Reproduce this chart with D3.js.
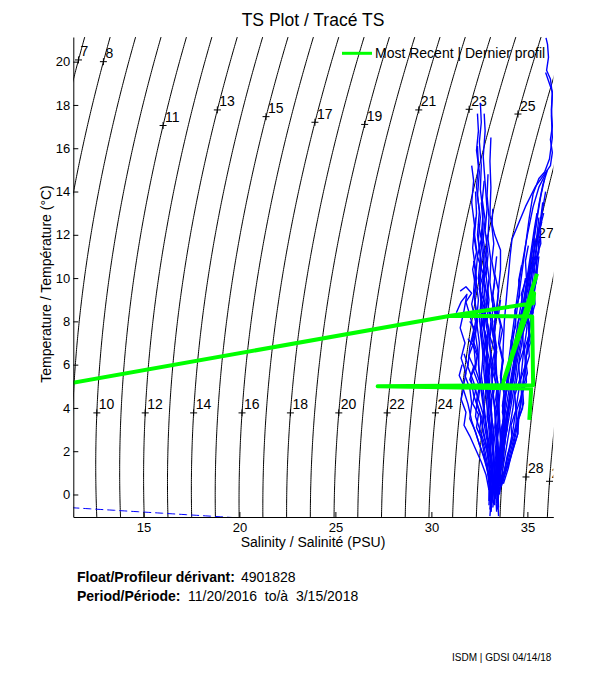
<!DOCTYPE html>
<html><head><meta charset="utf-8">
<script src="https://cdn.jsdelivr.net/npm/d3@7"></script>
<style>
body{margin:0;background:#fff}
svg text{font-family:"Liberation Sans",Arial,Helvetica,sans-serif;fill:#000}
</style>
</head><body>
<svg id="chart" width="611" height="675"></svg>
<script>
// ---------------- data ----------------
const xDomain = [11.35, 36.35];
const yDomain = [-1.04, 21.14];
const xTicks = [15, 20, 25, 30, 35];
const yTicks = [0, 2, 4, 6, 8, 10, 12, 14, 16, 18, 20];
const sigmaLevels = d3.range(7, 30);
const labelLevels = [7, 8, 10, 11, 12, 13, 14, 15, 16, 17, 18, 19, 20, 21, 22, 23, 24, 25, 27, 28, 29];
const labelTemps  = [20.08, 20.0, 3.77, 17.05, 3.77, 17.77, 3.77, 17.46, 3.77, 17.2, 3.77, 17.1, 3.77, 17.77, 3.77, 17.8, 3.77, 17.58, 11.7, 0.81, 0.61];

// fresher, near-vertical profiles [S, T], surface to depth
const freshProfiles = [
 [[32.55,18.1],[32.6,17.2],[32.5,16.3],[32.6,15.2],[32.55,14.1],[32.7,13.0],[32.6,12.0],[32.75,11.0],[32.7,10.0],[32.8,9.0],[32.7,8.0],[32.85,7.0],[32.9,6.0],[33.0,5.0],[33.1,4.0],[33.15,3.0],[33.25,2.0],[33.3,1.0],[33.35,0.0],[33.4,-0.8]],
 [[32.75,17.6],[32.8,16.8],[32.7,15.6],[32.8,14.4],[32.9,13.2],[32.8,12.2],[32.95,11.1],[32.85,10.1],[33.0,9.0],[32.9,8.0],[33.05,7.1],[33.1,6.0],[33.2,4.9],[33.3,3.9],[33.35,2.8],[33.45,1.8],[33.5,0.8],[33.45,-0.2],[33.5,-1.0]],
 [[32.4,16.1],[32.45,15.2],[32.35,14.2],[32.5,13.1],[32.4,12.0],[32.55,11.0],[32.45,10.0],[32.6,9.1],[32.5,8.1],[32.65,7.0],[32.7,6.0],[32.8,5.1],[32.9,4.0],[33.0,3.0],[33.1,2.0],[33.2,1.1],[33.25,0.2],[33.3,-0.5]],
 [[32.1,15.2],[32.2,14.5],[32.1,13.5],[32.25,12.4],[32.15,11.4],[32.3,10.4],[32.2,9.4],[32.35,8.4],[32.3,7.4],[32.45,6.4],[32.5,5.4],[32.65,4.4],[32.8,3.4],[32.95,2.4],[33.1,1.5],[33.2,0.6],[33.3,-0.2]],
 [[33.1,16.5],[33.05,15.4],[33.1,14.2],[33.05,12.9],[33.3,12.0],[33.6,11.3],[33.6,10.4],[33.5,9.5],[33.4,8.5],[33.3,7.5],[33.35,6.5],[33.4,5.5],[33.5,4.5],[33.55,3.5],[33.6,2.5],[33.55,1.5],[33.5,0.5],[33.45,-0.3]],
 [[32.3,14.0],[32.35,13.0],[32.25,12.0],[32.4,11.0],[32.3,10.0],[32.45,9.0],[32.35,8.0],[32.5,7.0],[32.45,6.0],[32.6,5.0],[32.75,4.0],[32.9,3.0],[33.05,2.0],[33.15,1.0],[33.25,0.1]],
 [[32.6,13.5],[32.7,12.5],[32.6,11.5],[32.75,10.5],[32.65,9.5],[32.8,8.5],[32.75,7.5],[32.9,6.5],[32.85,5.5],[33.0,4.5],[33.15,3.5],[33.3,2.5],[33.4,1.5],[33.45,0.5],[33.5,-0.6]],
 [[31.5,9.4],[31.8,9.6],[32.1,9.3],[31.8,8.9],[32.0,8.3],[32.2,7.6],[32.0,6.8],[31.9,5.9],[32.2,5.2],[32.4,4.5],[32.3,3.6],[32.6,2.8],[32.9,2.0],[33.1,1.2],[33.2,0.4]],
 [[32.9,12.0],[32.85,11.0],[33.0,10.0],[32.9,9.0],[33.1,8.0],[33.0,7.0],[33.2,6.0],[33.15,5.0],[33.3,4.0],[33.4,3.0],[33.5,2.0],[33.55,1.0],[33.5,0.0],[33.45,-0.7]],
 [[32.5,11.5],[32.6,10.5],[32.5,9.5],[32.65,8.5],[32.55,7.5],[32.7,6.5],[32.6,5.5],[32.75,4.5],[32.7,3.5],[32.9,2.5],[33.0,1.5],[33.1,0.5],[33.15,-0.2]],
 [[32.2,10.8],[32.35,10.0],[32.25,9.0],[32.4,8.0],[32.2,7.0],[32.3,6.0],[32.05,5.4],[32.2,4.6],[32.5,3.8],[32.7,3.0],[32.9,2.1],[33.05,1.2],[33.2,0.3]],
 [[32.95,14.8],[32.9,13.8],[33.0,12.8],[32.95,11.8],[33.1,10.8],[33.05,9.8],[33.2,8.8],[33.15,7.8],[33.3,6.8],[33.25,5.8],[33.4,4.8],[33.45,3.8],[33.6,2.8],[33.65,1.8],[33.6,0.8],[33.55,0.0]],
 [[32.4,17.6],[32.45,16.8],[32.35,15.9],[32.5,14.9],[32.4,13.8],[32.55,12.8],[32.45,11.8],[32.6,10.8],[32.5,9.8],[32.65,8.8],[32.6,7.8],[32.75,6.8],[32.8,5.8],[32.9,4.8],[33.0,3.8],[33.1,2.8],[33.2,1.8],[33.3,0.8],[33.35,-0.1]],
 [[31.7,6.5],[31.9,6.0],[31.75,5.5],[32.0,4.9],[32.1,4.2],[32.0,3.5],[32.3,2.9],[32.5,2.3],[32.8,1.6],[33.0,0.9],[33.15,0.2]],
 [[32.9,10.5],[32.7,9.8],[32.95,9.1],[32.8,8.4],[33.0,7.6],[32.85,6.9],[33.05,6.1],[32.95,5.3],[33.15,4.5],[33.1,3.7],[33.25,2.9],[33.2,2.1],[33.3,1.3],[33.2,0.5],[33.1,-0.4],[33.05,-1.0]],
 [[33.3,9.8],[33.15,9.0],[33.35,8.2],[33.2,7.4],[33.4,6.6],[33.3,5.8],[33.5,5.0],[33.4,4.2],[33.55,3.4],[33.45,2.6],[33.5,1.8],[33.35,1.0],[33.2,0.2],[33.1,-0.6]],
 [[32.6,9.0],[32.8,8.5],[32.65,7.9],[32.9,7.2],[32.75,6.5],[33.0,5.8],[32.85,5.0],[33.05,4.3],[32.95,3.6],[33.15,2.9],[33.05,2.1],[33.2,1.3],[33.1,0.5],[33.05,-0.3]],
 [[32.0,8.0],[32.3,7.6],[32.1,7.0],[32.4,6.4],[32.2,5.7],[32.5,5.0],[32.35,4.3],[32.6,3.6],[32.5,2.9],[32.75,2.2],[32.9,1.5],[33.0,0.8],[33.05,0.0]],
 [[33.6,9.0],[33.5,8.3],[33.7,7.6],[33.55,6.9],[33.75,6.2],[33.6,5.5],[33.8,4.8],[33.7,4.1],[33.85,3.4],[33.7,2.7],[33.75,2.0],[33.6,1.3],[33.45,0.6],[33.3,-0.2]],
 [[32.45,12.5],[32.6,11.8],[32.4,11.0],[32.7,10.2],[32.5,9.5],[32.8,8.8],[32.6,8.1],[32.85,7.3],[32.7,6.6],[32.9,5.9],[32.8,5.1],[33.0,4.4],[32.9,3.6],[33.1,2.8],[33.0,2.0],[33.15,1.2],[33.05,0.4],[33.0,-0.5]],
 [[33.0,8.6],[33.2,8.0],[33.05,7.3],[33.3,6.6],[33.1,5.9],[33.35,5.2],[33.2,4.5],[33.4,3.8],[33.3,3.1],[33.45,2.4],[33.35,1.7],[33.4,1.0],[33.25,0.3],[33.15,-0.4]],
 [[31.9,7.2],[32.15,6.9],[31.95,6.4],[32.2,5.9],[32.0,5.3],[32.3,4.8],[32.15,4.2],[32.45,3.7],[32.35,3.1],[32.6,2.6],[32.75,1.9],[32.9,1.2],[33.0,0.5],[33.0,-0.3]],
 [[33.4,11.0],[33.3,10.2],[33.5,9.4],[33.4,8.6],[33.6,7.8],[33.5,7.0],[33.7,6.2],[33.6,5.4],[33.8,4.6],[33.7,3.8],[33.9,3.0],[33.8,2.2],[33.7,1.4],[33.5,0.6],[33.35,-0.1]],
 [[32.3,12.8],[32.2,12.0],[32.35,11.2],[32.15,10.4],[32.3,9.6],[32.1,8.8],[32.3,8.0],[32.15,7.2],[32.4,6.5],[32.3,5.8],[32.55,5.1],[32.45,4.4],[32.7,3.7],[32.65,3.0],[32.85,2.3],[32.95,1.6],[33.05,0.9],[33.1,0.1],[33.05,-0.7]],
 [[31.3,8.4],[31.55,8.9],[31.85,9.25],[31.7,8.5],[31.5,7.7],[31.75,7.0],[31.55,6.3],[31.8,5.6],[31.65,4.9],[31.9,4.2],[32.1,3.4],[32.4,2.6],[32.7,1.8],[32.95,1.0],[33.1,0.2]],
 [[31.6,6.0],[31.45,5.5],[31.7,5.0],[31.55,4.4],[31.8,3.8],[31.7,3.2],[32.0,2.7],[32.3,2.1],[32.6,1.5],[32.85,0.9],[33.0,0.2]],
 [[32.75,14.5],[32.65,13.6],[32.8,12.7],[32.7,11.8],[32.85,10.9],[32.75,10.0],[32.9,9.1],[32.8,8.2],[32.95,7.3],[32.9,6.4],[33.05,5.5],[33.0,4.6],[33.15,3.7],[33.1,2.8],[33.25,1.9],[33.2,1.0],[33.15,0.1],[33.1,-0.8]],
 [[33.2,13.2],[33.15,12.4],[33.25,11.6],[33.15,10.8],[33.3,10.0],[33.2,9.2],[33.35,8.4],[33.25,7.6],[33.4,6.8],[33.3,6.0],[33.45,5.2],[33.35,4.4],[33.5,3.6],[33.4,2.8],[33.45,2.0],[33.3,1.2],[33.2,0.4]]
];

// saltier, slanted profiles [S, T]
const saltyProfiles = [
 [[35.9,14.6],[35.7,13.8],[35.55,13.0],[35.4,12.1],[35.25,11.2],[35.1,10.3],[34.95,9.4],[34.8,8.5],[34.65,7.6],[34.5,6.7],[34.35,5.8],[34.2,4.9],[34.05,4.0],[33.9,3.1],[33.75,2.2],[33.6,1.3],[33.5,0.5]],
 [[36.0,14.9],[35.6,14.2],[35.3,13.3],[35.0,12.0],[34.8,11.0],[34.6,10.0],[34.45,9.0],[34.3,8.0],[34.15,7.0],[34.0,6.0],[33.9,5.0],[33.8,4.0],[33.7,3.0],[33.6,2.0],[33.5,1.0],[33.45,0.2]],
 [[35.8,13.5],[35.7,12.8],[35.55,12.0],[35.45,11.1],[35.3,10.2],[35.2,9.3],[35.05,8.4],[34.95,7.5],[34.8,6.6],[34.7,5.7],[34.55,4.8],[34.4,3.9],[34.25,3.0],[34.05,2.1],[33.85,1.2],[33.65,0.4]],
 [[35.6,12.8],[35.5,12.0],[35.35,11.2],[35.25,10.4],[35.1,9.6],[35.0,8.8],[34.85,8.0],[34.75,7.2],[34.6,6.4],[34.5,5.6],[34.35,4.8],[34.25,4.0],[34.1,3.2],[33.95,2.4],[33.8,1.6],[33.65,0.8],[33.55,0.1]],
 [[35.5,13.0],[35.35,12.2],[35.2,11.3],[35.05,10.4],[34.9,9.5],[34.75,8.6],[34.6,7.7],[34.45,6.8],[34.3,5.9],[34.15,5.0],[34.0,4.1],[33.85,3.2],[33.7,2.3],[33.55,1.4],[33.4,0.6],[33.35,-0.2]],
 [[35.7,12.2],[35.6,11.5],[35.5,10.8],[35.4,10.0],[35.3,9.2],[35.2,8.4],[35.1,7.6],[35.0,6.8],[34.9,6.0],[34.8,5.2],[34.7,4.4],[34.55,3.6],[34.4,2.8],[34.2,2.0],[34.0,1.2],[33.75,0.5]],
 [[35.4,11.8],[35.3,11.0],[35.15,10.2],[35.0,9.4],[34.85,8.6],[34.7,7.8],[34.55,7.0],[34.4,6.2],[34.25,5.4],[34.1,4.6],[33.95,3.8],[33.8,3.0],[33.65,2.2],[33.5,1.4],[33.4,0.6]],
 [[35.95,14.0],[35.8,13.2],[35.65,12.4],[35.5,11.6],[35.35,10.8],[35.2,10.0],[35.05,9.2],[34.9,8.4],[34.75,7.6],[34.6,6.8],[34.45,6.0],[34.35,5.2],[34.2,4.4],[34.05,3.6],[33.9,2.8],[33.75,2.0],[33.6,1.2],[33.5,0.4]],
 [[35.2,11.0],[35.05,10.2],[34.9,9.4],[34.75,8.6],[34.6,7.8],[34.45,7.0],[34.3,6.2],[34.15,5.4],[34.0,4.6],[33.85,3.8],[33.75,3.0],[33.6,2.2],[33.5,1.4],[33.4,0.6],[33.3,-0.1]],
 [[35.6,11.0],[35.5,10.3],[35.4,9.6],[35.3,8.9],[35.2,8.2],[35.1,7.5],[35.0,6.8],[34.9,6.1],[34.8,5.4],[34.7,4.7],[34.6,4.0],[34.45,3.3],[34.3,2.6],[34.1,1.9],[33.9,1.2],[33.7,0.5]],
 [[34.9,10.0],[34.75,9.2],[34.6,8.4],[34.45,7.6],[34.3,6.8],[34.15,6.0],[34.0,5.2],[33.85,4.4],[33.75,3.6],[33.65,2.8],[33.55,2.0],[33.45,1.2],[33.4,0.4]],
 [[36.05,15.0],[35.4,14.2],[34.9,13.3],[34.2,11.8],[34.1,11.0],[34.0,10.0],[33.9,9.0],[33.8,8.0],[33.75,7.0],[33.7,6.0],[33.6,5.0],[33.5,4.0],[33.45,3.0],[33.4,2.0],[33.35,1.0],[33.3,0.2]],
 [[35.3,10.8],[35.1,10.1],[35.2,9.5],[34.95,8.8],[35.0,8.1],[34.75,7.4],[34.8,6.7],[34.55,6.0],[34.6,5.3],[34.35,4.6],[34.4,3.9],[34.15,3.2],[34.2,2.5],[33.95,1.8],[33.8,1.1],[33.6,0.4],[33.4,-0.3]],
 [[35.75,12.6],[35.55,11.9],[35.6,11.2],[35.35,10.5],[35.45,9.8],[35.2,9.1],[35.3,8.4],[35.05,7.7],[35.15,7.0],[34.9,6.3],[35.0,5.6],[34.75,4.9],[34.8,4.2],[34.55,3.5],[34.5,2.8],[34.25,2.1],[34.0,1.4],[33.7,0.7],[33.5,0.0]],
 [[35.05,11.5],[34.9,10.8],[34.95,10.0],[34.7,9.3],[34.75,8.6],[34.5,7.9],[34.55,7.2],[34.3,6.5],[34.35,5.8],[34.1,5.1],[34.15,4.4],[33.9,3.7],[33.95,3.0],[33.7,2.3],[33.65,1.6],[33.45,0.9],[33.3,0.1],[33.2,-0.6]],
 [[35.5,10.0],[35.35,9.4],[35.4,8.8],[35.2,8.2],[35.25,7.6],[35.05,7.0],[35.1,6.4],[34.9,5.8],[34.95,5.2],[34.7,4.6],[34.75,4.0],[34.5,3.4],[34.5,2.8],[34.3,2.2],[34.1,1.6],[33.85,1.0],[33.6,0.3]],
 [[34.7,10.6],[34.55,9.9],[34.6,9.2],[34.35,8.5],[34.4,7.8],[34.15,7.1],[34.2,6.4],[33.95,5.7],[34.0,5.0],[33.75,4.3],[33.8,3.6],[33.6,2.9],[33.6,2.2],[33.4,1.5],[33.35,0.8],[33.2,0.0],[33.1,-0.8]],
 [[35.85,13.0],[35.65,12.3],[35.7,11.6],[35.45,10.9],[35.5,10.2],[35.25,9.5],[35.3,8.8],[35.05,8.1],[35.1,7.4],[34.85,6.7],[34.9,6.0],[34.65,5.3],[34.7,4.6],[34.45,3.9],[34.4,3.2],[34.2,2.5],[34.0,1.8],[33.8,1.1],[33.55,0.4]]
];

// warm, salty profiles along the right edge [S, T]
const edgeProfiles = [
 [[35.97,21.1],[36.05,20.8],[36.1,20.2],[36.0,19.6],[36.2,19.2],[36.3,18.5],[36.25,17.8],[36.3,17.0],[36.2,16.4],[36.3,15.8],[36.2,15.2],[36.05,15.0],[35.8,14.3],[35.6,13.4],[35.45,12.5],[35.3,11.6],[35.15,10.7],[35.0,9.8],[34.85,8.9],[34.7,8.0],[34.55,7.1],[34.4,6.2],[34.25,5.3],[34.1,4.4],[33.95,3.5],[33.8,2.6],[33.65,1.7],[33.55,0.8],[33.45,0.0]],
 [[35.95,19.5],[36.3,18.6],[36.25,17.5],[36.3,16.5],[36.15,15.5],[35.9,14.9],[35.6,14.6],[35.3,13.9],[35.1,12.8],[34.95,11.8],[34.8,10.8],[34.65,9.8],[34.5,8.8],[34.35,7.8],[34.2,6.8],[34.05,5.8],[33.9,4.8],[33.8,3.8],[33.7,2.8],[33.6,1.8],[33.5,0.8],[33.4,-0.4]]
];

// most recent profile
const recentS = [35.5, 33.75, 35.35, 35.3, 31.0, 8.0, 31.0, 35.25, 35.3, 27.2, 35.2, 35.1];
const recentT = [10.2, 5.2, 9.3, 8.84, 8.26, 4.64, 8.26, 8.23, 5.05, 5.0, 4.9, 3.45];

const titleText = "TS Plot / Tracé TS";
const xLabel = "Salinity / Salinité (PSU)";
const yLabel = "Temperature / Température (°C)";
const legendText = "Most Recent | Dernier profil";

// ---------------- helpers ----------------
function sigma(S, T) {
  const rw = 999.842594 + 6.793952e-2*T - 9.095290e-3*T*T + 1.001685e-4*T**3 - 1.120083e-6*T**4 + 6.536332e-9*T**5;
  const B = 0.824493 - 4.0899e-3*T + 7.6438e-5*T*T - 8.2467e-7*T**3 + 5.3875e-9*T**4;
  const C = -5.72466e-3 + 1.0227e-4*T - 1.6546e-6*T*T;
  return rw + B*S + C*Math.pow(S,1.5) + 4.8314e-4*S*S - 1000;
}
function salAt(level, T) {
  let lo = 0, hi = 50;
  for (let i = 0; i < 60; i++) {
    const m = (lo+hi)/2;
    if (sigma(m, T) < level) lo = m; else hi = m;
  }
  return (lo+hi)/2;
}
function freezing(S) {
  return -0.0575*S + 1.710523e-3*Math.pow(S,1.5) - 2.154996e-4*S*S;
}

// ---------------- drawing ----------------
const svg = d3.select("#chart");
svg.append("rect").attr("width",611).attr("height",675).attr("fill","#fff");

const x = d3.scaleLinear().domain(xDomain).range([73.3, 553.3]);
const y = d3.scaleLinear().domain(yDomain).range([517, 37]);

svg.append("clipPath").attr("id","plotclip")
  .append("rect").attr("x",x.range()[0]).attr("y",y.range()[1])
  .attr("width",x.range()[1]-x.range()[0]).attr("height",y.range()[0]-y.range()[1]);

const plot = svg.append("g").attr("clip-path","url(#plotclip)");
const line = d3.line().x(d=>x(d[0])).y(d=>y(d[1]));

// density contours
const tSamples = d3.range(-1.6, 21.8, 0.1);
plot.append("g").selectAll("path").data(sigmaLevels).join("path")
  .attr("d", lev => line(tSamples.map(t => [salAt(lev,t), t])))
  .attr("fill","none").attr("stroke","#000").attr("stroke-width",1);

// contour labels
const lab = plot.append("g");
labelLevels.forEach((lev,i) => {
  const t = labelTemps[i], s = salAt(lev,t);
  const px = x(s), py = y(t);
  lab.append("path").attr("d",`M${px-3.5},${py}H${px+3.5}M${px},${py-3.5}V${py+3.5}`)
    .attr("stroke","#000").attr("stroke-width",1);
  lab.append("text").attr("x",px+2).attr("y",py-3.5).attr("font-size",14).text(lev);
});

// profiles
const blue = plot.append("g").attr("fill","none").attr("stroke","#0000ff").attr("stroke-width",1.4).attr("stroke-linejoin","round");
[...freshProfiles, ...saltyProfiles, ...edgeProfiles].forEach(p => blue.append("path").attr("d", line(p)));

// freezing line
const fS = d3.range(10, 22, 0.25);
plot.append("path").attr("d", line(fS.map(s => [s, freezing(s)])))
  .attr("fill","none").attr("stroke","#0000ff").attr("stroke-width",1).attr("stroke-dasharray","8,4");

// most recent
plot.append("path").attr("d", line(recentS.map((s,i)=>[s, recentT[i]])))
  .attr("fill","none").attr("stroke","#00ff00").attr("stroke-width",4).attr("stroke-linejoin","round");

// axes
const xAxis = d3.axisBottom(x).tickValues(xTicks).tickSizeInner(-5).tickSizeOuter(0).tickPadding(6);
const gx = svg.append("g").attr("transform",`translate(0,${y.range()[0]})`).call(xAxis);
const yAxis = d3.axisLeft(y).tickValues(yTicks).tickSizeInner(-5).tickSizeOuter(0).tickPadding(3);
const gy = svg.append("g").attr("transform",`translate(${x.range()[0]},0)`).call(yAxis);
[gx, gy].forEach(g => {
  g.selectAll("text").attr("font-size",13).attr("font-family",'"Liberation Sans",Arial,sans-serif').attr("fill","#000");
  g.selectAll("line,path").attr("stroke","#000");
});

// axis labels & title
svg.append("text").attr("x",313).attr("y",547).attr("text-anchor","middle").attr("font-size",14).text(xLabel);
svg.append("text").attr("transform","translate(51,284) rotate(-90)").attr("text-anchor","middle").attr("font-size",14).text(yLabel);
svg.append("text").attr("x",313).attr("y",26).attr("text-anchor","middle").attr("font-size",17.5).text(titleText);

// legend
svg.append("line").attr("x1",342).attr("x2",372).attr("y1",53.3).attr("y2",53.3).attr("stroke","#00ff00").attr("stroke-width",3);
svg.append("text").attr("x",375).attr("y",58).attr("font-size",14).text(legendText);

// info
svg.append("text").attr("x",77).attr("y",582).attr("font-size",14).attr("font-weight","bold").text("Float/Profileur dérivant:");
svg.append("text").attr("x",241).attr("y",582).attr("font-size",14).text("4901828");
svg.append("text").attr("x",77).attr("y",601).attr("font-size",14).attr("font-weight","bold").text("Period/Période:");
svg.append("text").attr("x",188).attr("y",601).attr("font-size",14).style("white-space","pre").text("11/20/2016  to/à  3/15/2018");
svg.append("text").attr("x",452).attr("y",661).attr("font-size",10).text("ISDM | GDSI  04/14/18");
</script>
</body></html>
